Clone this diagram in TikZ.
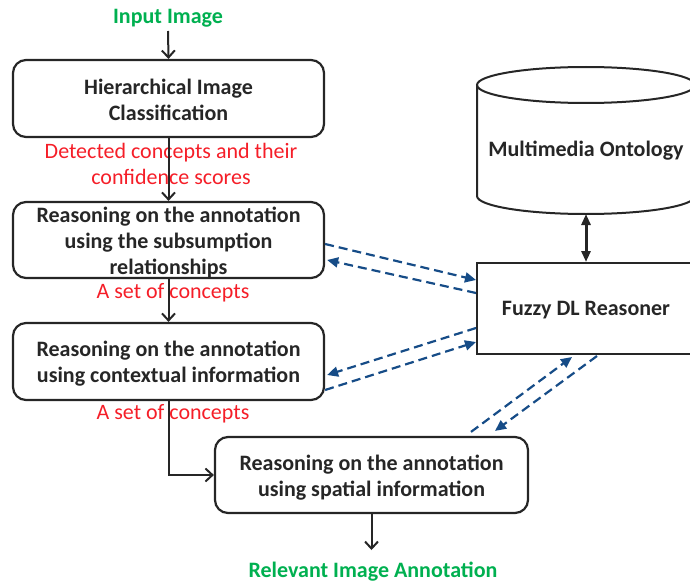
\documentclass[tikz,border=0pt]{standalone}
\usepackage{fontspec}
\setmainfont{Carlito}
\usetikzlibrary{arrows.meta,calc}
\definecolor{txtgray}{RGB}{38,38,38}
\definecolor{ingreen}{RGB}{0,176,80}
\definecolor{lblred}{RGB}{245,30,40}
\definecolor{dlblue}{RGB}{22,76,135}
\begin{document}
\begin{tikzpicture}[x=1pt,y=-1pt,
  boxfont/.style={font=\fontsize{22}{25.8}\selectfont\bfseries},
  procbox/.style={draw=txtgray, line width=2.2pt, rounded corners=13pt, minimum width=311pt, minimum height=77pt, inner sep=0pt},
  boxtext/.style={inner sep=0pt, align=center, text=txtgray, boxfont},
  plainbox/.style={draw=txtgray, line width=2pt, minimum width=218pt, minimum height=91pt, inner sep=0pt},
  boldtxt/.style={inner sep=0pt, text=txtgray, boxfont},
  greentxt/.style={inner sep=0pt, anchor=base, text=ingreen, boxfont},
  redtxt/.style={inner sep=0pt, align=center, text=lblred, font=\fontsize{22}{26}\selectfont},
  flow/.style={draw=txtgray, line width=2pt, -{Straight Barb[length=7pt,width=13pt,line width=2pt]}},
  query/.style={draw=dlblue, line width=2.2pt, dash pattern=on 9pt off 5pt, -{Triangle[length=11pt,width=10pt]}},
  dblarrow/.style={draw=txtgray, line width=3pt, {Triangle[length=11pt,width=9pt]}-{Triangle[length=11pt,width=9pt]}},
  cylline/.style={draw=txtgray, line width=2pt}
]
\useasboundingbox (0,0) rectangle (690,583);
\clip (0,0) rectangle (690,583);

% texts and boxes
\node[greentxt] (in) at (168,24) {Input Image};
\node[procbox, label={[boxtext, yshift=-1pt]center:Hierarchical Image\\Classification}] (b1) at (168.5,98.5) {};
\node[redtxt] (l1) at (171,164) {Detected concepts and their\\confidence scores};
\node[procbox, minimum height=76pt, label={[boxtext, yshift=-2.5pt]center:Reasoning on the annotation\\using the subsumption\\relationships}] (b2) at (168.5,240) {};
\node[redtxt, anchor=base] (l2) at (173,298) {A set of concepts};
\node[procbox, label={[boxtext, yshift=-2.5pt]center:Reasoning on the annotation\\using contextual information}] (b3) at (168.5,361.5) {};
\node[redtxt, anchor=base] (l3) at (173,419) {A set of concepts};
\node[procbox, minimum width=313pt, minimum height=76pt, label={[boxtext, yshift=-2.5pt]center:Reasoning on the annotation\\using spatial information}] (b4) at (371.5,475) {};
\node[greentxt] (out) at (373,577) {Relevant Image Annotation};

% ontology cylinder
\draw[cylline, fill=white] (477,85) -- (477,196) arc[start angle=180, end angle=0, x radius=109, y radius=18] -- (695,85);
\draw[cylline] (586,85) ellipse[x radius=109, y radius=18];
\node[boldtxt] (onto) at (586,151) {Multimedia Ontology};
\coordinate (ontobot) at (586,214);

% fuzzy reasoner
\node[plainbox, label={[boldtxt, yshift=-2pt]center:Fuzzy DL Reasoner}] (fz) at (586,308.5) {};

% main flow
\draw[flow] (in.south |- 0,31) -- (b1.north);
\draw[flow] (b1.south) -- (b2.north);
\draw[flow] (b2.south) -- (b3.north);
\draw[flow] (b3.south) |- (b4.west);
\draw[flow] (b4.south) -- (b4.south |- 0,550);

% ontology link
\draw[dblarrow] (ontobot) -- (fz.north);

% reasoner queries
\draw[query] ($(b2.east)+(0,4)$) -- ($(fz.west)+(0,-28.5)$);
\draw[query] ($(fz.west)+(0,-15.5)$) -- ($(b2.east)+(2,20)$);
\draw[query] ($(fz.west)+(0,19.5)$) -- ($(b3.east)+(2,13.5)$);
\draw[query] ($(b3.east)+(0,28.5)$) -- ($(fz.west)+(0,33.5)$);
\draw[query] ($(b4.north)+(99.5,-4)$) -- ($(fz.south)+(-14,2)$);
\draw[query] ($(fz.south)+(11,1)$) -- ($(b4.north)+(123.5,-5)$);
\end{tikzpicture}
\end{document}
